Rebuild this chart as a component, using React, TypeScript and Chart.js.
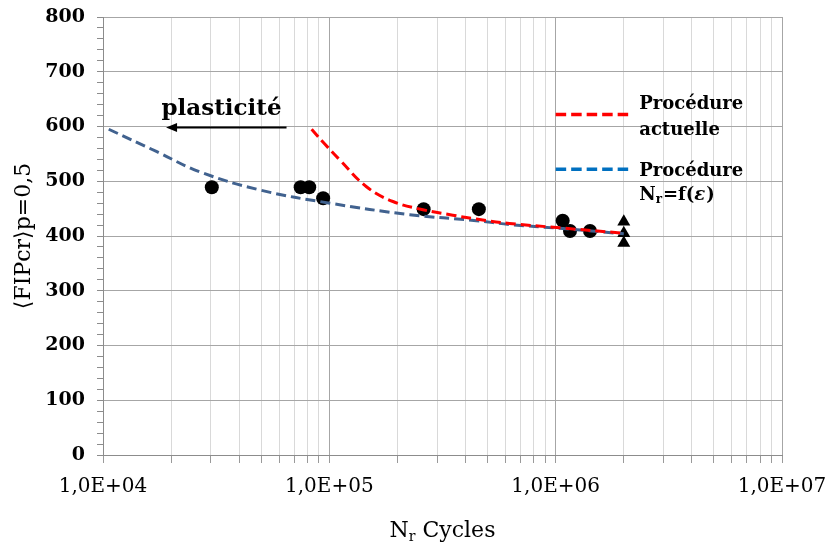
import React, { useEffect, useRef } from 'react';
import { Chart, registerables } from 'chart.js';

Chart.register(...registerables);

// ---- Data ----
const specimenCycles = [30250, 74700, 81500, 93900, 261000, 457700, 1074000, 1157000, 1418000];
const specimenFIP = [489, 489, 489, 469, 449, 449, 428, 409, 409];

const runoutCycles = [2000000, 2000000, 2000000];
const runoutFIP = [426, 405, 387];

const actuelleCycles = [83500, 95500, 111200, 145900, 191000, 259000, 351000, 446000, 625000, 1040000, 2000000];
const actuelleFIP = [595, 568, 539, 490, 463, 448, 438, 431, 423, 415, 405];

const strainCycles = [10600, 17300, 26850, 49400, 100400, 226500, 446000, 625000, 1040000, 2000000];
const strainFIP = [595, 554, 517, 484, 460, 439, 428, 421, 414, 404];

// ---- Axis ticks ----
const xDecades = [10000, 100000, 1000000, 10000000];
const xDecadeLabels = ['1,0E+04', '1,0E+05', '1,0E+06', '1,0E+07'];
const xMantissas = [1, 2, 3, 4, 5, 6, 7, 8, 9];
const yMajorTicks = [0, 100, 200, 300, 400, 500, 600, 700, 800];
const yMinorStep = 20;

// ---- Texts ----
const yTitle = '⟨FIPcr⟩p=0,5';
const xTitleMain = 'N';
const xTitleSub = 'r';
const xTitleRest = ' Cycles';
const legendRedLines = ['Procédure', 'actuelle'];
const legendBlueLine1 = 'Procédure';
const plasticityLabel = 'plasticité';

// ---- Annotation anchors (in data units) ----
const plasticityTextN = 33400;
const plasticityTextFIP = 621;
const plasticityArrowFromN = 64700;
const plasticityArrowToN = 19000;
const plasticityArrowFIP = 598;
const legendLineStartN = 1000000;
const legendLineEndN = 2120000;
const legendTextN = 2340000;
const legendRedFIP = 622;
const legendBlueFIP = 522;

const RED = '#FF0000';
const BLUE_CURVE = '#41628F';
const BLUE_LEGEND = '#0070C0';
const SERIF = '"DejaVu Serif", serif';

const xTickValues: number[] = [];
xDecades.slice(0, 3).forEach((d) => xMantissas.forEach((m) => xTickValues.push(m * d)));
xTickValues.push(xDecades[3]);

const isDecade = (v: number) => xDecades.some((d) => Math.abs(d - v) < 1e-6 * d);

const overlayPlugin = {
  id: 'overlay',
  afterDraw(chart: any) {
    const { ctx, chartArea } = chart;
    const xs = chart.scales.x;
    const ys = chart.scales.y;
    ctx.save();
    ctx.fillStyle = '#000';
    ctx.strokeStyle = '#000';

    // X axis title with subscript
    const cx = (chartArea.left + chartArea.right) / 2;
    const base = chartArea.bottom + 82;
    ctx.font = `22px ${SERIF}`;
    const wN = ctx.measureText(xTitleMain).width;
    const wRest = ctx.measureText(xTitleRest).width;
    ctx.font = `14px ${SERIF}`;
    const wSub = ctx.measureText(xTitleSub).width;
    const x0 = cx - (wN + wSub + wRest) / 2;
    ctx.textBaseline = 'alphabetic';
    ctx.textAlign = 'left';
    ctx.font = `22px ${SERIF}`;
    ctx.fillText(xTitleMain, x0, base);
    ctx.font = `14px ${SERIF}`;
    ctx.fillText(xTitleSub, x0 + wN, base + 4);
    ctx.font = `22px ${SERIF}`;
    ctx.fillText(xTitleRest, x0 + wN + wSub, base);

    // plasticité annotation
    ctx.font = `bold 23px ${SERIF}`;
    ctx.textAlign = 'center';
    ctx.fillText(plasticityLabel, xs.getPixelForValue(plasticityTextN), ys.getPixelForValue(plasticityTextFIP));
    const ay = ys.getPixelForValue(plasticityArrowFIP);
    const ax1 = xs.getPixelForValue(plasticityArrowFromN);
    const ax2 = xs.getPixelForValue(plasticityArrowToN);
    ctx.lineWidth = 2;
    ctx.beginPath();
    ctx.moveTo(ax1, ay);
    ctx.lineTo(ax2 + 8, ay);
    ctx.stroke();
    ctx.beginPath();
    ctx.moveTo(ax2, ay);
    ctx.lineTo(ax2 + 11, ay - 4.5);
    ctx.lineTo(ax2 + 11, ay + 4.5);
    ctx.closePath();
    ctx.fill();

    // Legend
    const lx1 = xs.getPixelForValue(legendLineStartN);
    const lx2 = xs.getPixelForValue(legendLineEndN);
    const tx = xs.getPixelForValue(legendTextN);
    const ry = ys.getPixelForValue(legendRedFIP);
    const by = ys.getPixelForValue(legendBlueFIP);
    ctx.lineWidth = 3.5;
    ctx.setLineDash([10.5, 5]);
    ctx.strokeStyle = RED;
    ctx.beginPath();
    ctx.moveTo(lx1, ry);
    ctx.lineTo(lx2, ry);
    ctx.stroke();
    ctx.strokeStyle = BLUE_LEGEND;
    ctx.beginPath();
    ctx.moveTo(lx1, by);
    ctx.lineTo(lx2, by);
    ctx.stroke();
    ctx.setLineDash([]);

    ctx.textAlign = 'left';
    ctx.fillStyle = '#000';
    ctx.font = `bold 18px ${SERIF}`;
    ctx.fillText(legendRedLines[0], tx, ry - 5);
    ctx.fillText(legendRedLines[1], tx, ry + 21);
    ctx.fillText(legendBlueLine1, tx, by + 7);
    // N_r=f(ε)
    let px = tx;
    const b2 = by + 31;
    ctx.fillText('N', px, b2);
    px += ctx.measureText('N').width;
    ctx.font = `bold 12px ${SERIF}`;
    ctx.fillText('r', px, b2 + 3);
    px += ctx.measureText('r').width + 1;
    ctx.font = `bold 18px ${SERIF}`;
    ctx.fillText('=f(', px, b2);
    px += ctx.measureText('=f(').width;
    ctx.font = `bold italic 18px ${SERIF}`;
    ctx.fillText('ε', px, b2);
    px += ctx.measureText('ε').width + 1;
    ctx.font = `bold 18px ${SERIF}`;
    ctx.fillText(')', px, b2);

    ctx.restore();
  },
};

export default function App() {
  const canvasRef = useRef<HTMLCanvasElement | null>(null);

  useEffect(() => {
    if (!canvasRef.current) return;
    const toPoints = (xs: number[], ys: number[]) => xs.map((x, i) => ({ x, y: ys[i] }));
    const chart = new Chart(canvasRef.current, {
      type: 'scatter',
      data: {
        datasets: [
          {
            label: 'Procédure actuelle',
            data: toPoints(actuelleCycles, actuelleFIP),
            showLine: true,
            borderColor: RED,
            borderWidth: 3,
            borderDash: [10, 5],
            pointRadius: 0,
            tension: 0.4,
            fill: false,
          } as any,
          {
            label: 'Procédure Nr=f(ε)',
            data: toPoints(strainCycles, strainFIP),
            showLine: true,
            borderColor: BLUE_CURVE,
            borderWidth: 3,
            borderDash: [10, 5],
            pointRadius: 0,
            tension: 0.4,
            fill: false,
          } as any,
          {
            label: 'Essais',
            data: toPoints(specimenCycles, specimenFIP),
            pointStyle: 'circle',
            pointRadius: 7,
            backgroundColor: '#000',
            borderColor: '#000',
            borderWidth: 0,
          },
          {
            label: 'Non rompus',
            data: toPoints(runoutCycles, runoutFIP),
            pointStyle: 'triangle',
            pointRadius: 7.5,
            backgroundColor: '#000',
            borderColor: '#000',
            borderWidth: 0,
          },
        ],
      },
      options: {
        animation: false,
        responsive: true,
        maintainAspectRatio: false,
        layout: { padding: { top: 17, right: 47, bottom: 0, left: 0 } },
        plugins: { legend: { display: false }, tooltip: { enabled: false } },
        scales: {
          x: {
            type: 'logarithmic',
            min: 10000,
            max: 10000000,
            afterBuildTicks: (scale: any) => {
              scale.ticks = xTickValues.map((v) => ({ value: v, major: isDecade(v) }));
            },
            afterFit: (scale: any) => {
              scale.height = 92;
              scale.paddingLeft = 0;
              scale.paddingRight = 0;
            },
            ticks: {
              autoSkip: false,
              maxRotation: 0,
              minRotation: 0,
              padding: 12,
              color: '#000',
              font: { family: SERIF, size: 20 },
              callback: (value: any) => {
                const idx = xDecades.findIndex((d) => Math.abs(d - Number(value)) < 1e-6 * d);
                return idx >= 0 ? xDecadeLabels[idx] : '';
              },
            },
            grid: {
              color: (c: any) => (c.tick && isDecade(c.tick.value) ? '#a6a6a6' : '#d9d9d9'),
              tickColor: '#9a9a9a',
              tickLength: 8,
              lineWidth: 1,
            },
            border: { color: '#8c8c8c', width: 1 },
            title: { display: false },
          },
          y: {
            type: 'linear',
            min: 0,
            max: 800,
            afterFit: (scale: any) => {
              scale.width = 103;
              scale.paddingTop = 0;
              scale.paddingBottom = 0;
            },
            ticks: {
              stepSize: yMinorStep,
              autoSkip: false,
              padding: 12,
              color: '#000',
              font: { family: SERIF, size: 19, weight: 'bold' },
              callback: (value: any) => (yMajorTicks.includes(Number(value)) ? String(value) : ''),
            },
            grid: {
              color: (c: any) => (c.tick && yMajorTicks.includes(c.tick.value) ? '#a6a6a6' : 'rgba(0,0,0,0)'),
              tickColor: '#8c8c8c',
              tickLength: 6,
              lineWidth: 1,
            },
            border: { color: '#8c8c8c', width: 1 },
            title: {
              display: true,
              text: yTitle,
              color: '#000',
              font: { family: SERIF, size: 22 },
              padding: { top: 11, bottom: 0 },
            },
          },
        },
      },
      plugins: [overlayPlugin],
    });
    return () => chart.destroy();
  }, []);

  return (
    <div style={{ position: 'fixed', left: 0, top: 0, width: 829, height: 547, background: '#fff' }}>
      <canvas ref={canvasRef} />
    </div>
  );
}
